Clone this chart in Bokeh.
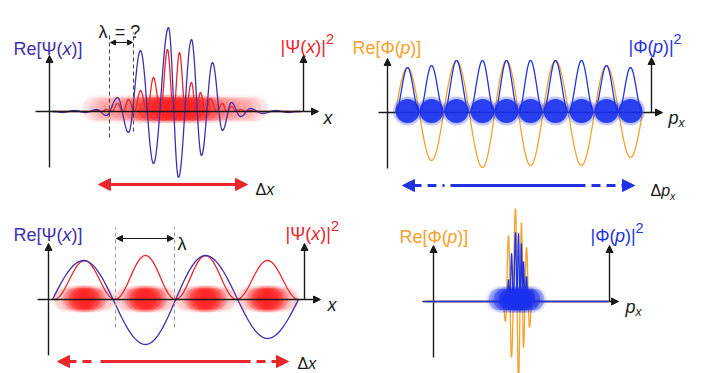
import numpy as np
from bokeh.plotting import figure
from bokeh.models import Range1d, Arrow, NormalHead
from bokeh.core.properties import value
from bokeh.embed import file_html
from bokeh.resources import INLINE

# ---------------- data ----------------
# x: position along each horizontal axis (px units), y: height above that axis (px units)
# Top-left: localized wave packet in x
TL_RE_X = [62, 74, 85, 96, 106, 117, 128, 140, 153, 168, 178, 191, 201, 212, 222, 231, 240, 250, 262, 275, 288]
TL_RE_Y = [-1, 1, -1, 2, -4, 14, -21, 61, -52, 84, -66, 72, -44, 49, -19, 9, -5, 3, -2, 1, -1]
TL_PROB_X = [96, 106, 117, 128, 140, 153, 167, 179, 191, 200, 210, 222, 231, 240, 250]
TL_PROB_Y = [1, 2, 8, 12, 21, 34, 62, 59, 29, 19, 13, 8, 5, 2, 1]
TL_BLOB_X = [94, 101, 108, 115, 122, 129, 136, 143, 150, 157, 164, 171, 178, 185, 192, 199, 206, 213, 220, 227, 234, 241, 248, 255]
TL_BLOB_A = [.09, .10, .11, .13, .15, .19, .26, .36, .5, .6, .65, .65, .65, .65, .6, .5, .36, .26, .19, .15, .13, .11, .10, .09]

# Top-right: spread-out momentum distribution
TR_RE_X = [407, 431, 456, 482, 506, 530, 555, 581, 606, 630]
TR_RE_Y = [45, -48, 52, -55, 52, -53, 52, -53, 47, -45]
TR_PROB_Y = [45, 47, 52, 52, 52, 52, 52, 52, 47, 45]

# Bottom-left: plane wave in x
BL_RE_X = [83, 145, 205, 267]
BL_RE_Y = [39, -45, 44, -39]
BL_PROB_X = [84, 145, 205, 267]
BL_PROB_Y = [39, 44, 44, 39]
BL_BLOB_OFF = [-19, -10, -5, 0, 5, 10, 19]
BL_BLOB_A = [.15, .28, .45, .6, .45, .28, .15]

# Bottom-right: narrow momentum distribution
BR_RE_X = [496, 499, 502, 505, 508, 511, 515, 518, 521, 523, 526, 529, 532, 535, 538, 541]
BR_RE_Y = [1, -2, 4, -20, 66, -56, 93, -80, 79, -46, 54, -26, 12, -5, 2, -1]
BR_PROB_X = [502, 505, 508, 511, 515, 518, 521, 523, 526, 529, 532]
BR_PROB_Y = [4, 10, 22, 48, 69, 68, 58, 40, 25, 10, 4]
BR_BLOB_X = [499, 504, 509, 514, 519, 524, 529, 533]
BR_BLOB_A = [.35, .5, .7, .85, .85, .7, .5, .35]

# ---------------- styles ----------------
FONT = "Liberation Sans"
PURPLE = "#3f2fae"
RED = "#e8262b"
ORANGE = "#f7a12c"
BLUE = "#1f34e0"
BLOB_RED = "#ff1f1f"
BLOB_BLUE = "#1a30ee"
INK = "#1a1a1a"

W = {'R': .722, 'e': .556, '[': .278, ']': .278, '(': .333, ')': .333, 'x': .5, 'p': .556,
     '|': .26, '2': .556, 'Ψ': .835, 'Φ': .764, 'Δ': .668, 'λ': .62, ' ': .278, '=': .584, '?': .556}

p = figure(width=709, height=373, x_range=Range1d(0, 709), y_range=Range1d(0, 373),
           toolbar_location=None, output_backend="svg", x_axis_type=None, y_axis_type=None,
           min_border=0, outline_line_color=None)
p.background_fill_color = "white"
p.border_fill_color = "white"


def Y(py):
    return 373 - py


def cos_interp(xs, ys, n=24):
    ox, oy = [], []
    for i in range(len(xs) - 1):
        t = np.arange(n) / n
        ox.extend(xs[i] + (xs[i + 1] - xs[i]) * t)
        oy.extend(ys[i] + (ys[i + 1] - ys[i]) * (1 - np.cos(np.pi * t)) / 2)
    ox.append(xs[-1]); oy.append(ys[-1])
    return np.array(ox), np.array(oy)


def wave_curve(xs, ys):
    xs = list(xs); ys = list(ys)
    d0 = xs[1] - xs[0]; d1 = xs[-1] - xs[-2]
    cx, cy = cos_interp([xs[0] - d0] + xs + [xs[-1] + d1], [-ys[0]] + ys + [-ys[-1]])
    m = (cx >= xs[0] - d0 / 2 - 1e-9) & (cx <= xs[-1] + d1 / 2 + 1e-9)
    return cx[m], cy[m]


def lobes(xs, ys):
    px = [xs[0] - (xs[1] - xs[0]) / 2]; py = [0]
    for i in range(len(xs)):
        px.append(xs[i]); py.append(ys[i])
        if i < len(xs) - 1:
            px.append((xs[i] + xs[i + 1]) / 2); py.append(0)
    px.append(xs[-1] + (xs[-1] - xs[-2]) / 2); py.append(0)
    return cos_interp(px, py)


def extend(cx, cy, lo, hi):
    return np.concatenate([[lo], cx, [hi]]), np.concatenate([[0], cy, [0]])


def blobs(xs, alphas, yc, r, color, halo=0.3):
    xs = list(xs)
    p.circle(x=xs, y=[yc] * len(xs), radius=r + 2.5, fill_color=color,
             fill_alpha=[a * halo for a in alphas], line_color=None)
    p.circle(x=xs, y=[yc] * len(xs), radius=r, fill_color=color,
             fill_alpha=list(alphas), line_color=None)


def rich(x, y, segs, color, size=18):
    for s, style, scale, dy in segs:
        fs = size * scale
        st = s.lstrip(" ")
        x += (len(s) - len(st)) * W[' '] * fs
        p.text(x=[x], y=[y + dy], text=[st], text_font=value(FONT), text_font_size=f"{fs:.1f}px",
               text_font_style=style, text_color=color, text_baseline="alphabetic", text_align="left")
        x += sum(W.get(c, .55) for c in st) * fs


def axis_arrow(x0, y0, x1, y1, level="annotation"):
    p.add_layout(Arrow(end=NormalHead(size=7, fill_color=INK, line_color=INK),
                       x_start=x0, y_start=y0, x_end=x1, y_end=y1,
                       line_color=INK, line_width=1.4, level=level))


def head(xt, y, direction, color, size=12):
    p.add_layout(Arrow(end=NormalHead(size=size, fill_color=color, line_color=color),
                       x_start=xt - direction, y_start=y, x_end=xt, y_end=y,
                       line_alpha=0, line_width=1))


def big_arrow(x_left, x_right, y, color, solid=None):
    head(x_left, y, -1, color)
    head(x_right, y, 1, color)
    if solid is None:
        p.segment(x0=[x_left + 4], y0=[y], x1=[x_right - 4], y1=[y], line_color=color, line_width=3)
    else:
        p.segment(x0=[solid[0]], y0=[y], x1=[solid[1]], y1=[y], line_color=color, line_width=3)
        p.segment(x0=[x_left + 10, solid[1] + 6], y0=[y, y], x1=[solid[0] - 6, x_right - 10], y1=[y, y],
                  line_color=color, line_width=3, line_dash="9 6")


# ================= Top-left =================
b = Y(111)
blobs(TL_BLOB_X, TL_BLOB_A, b + 2.5, 12, BLOB_RED)
cx, cy = extend(*lobes(TL_PROB_X, TL_PROB_Y), 52, 300)
p.line(cx, b + cy, line_color=RED, line_width=1.3)
cx, cy = extend(*wave_curve(TL_RE_X, TL_RE_Y), 52, 300)
p.line(cx, b + cy, line_color=PURPLE, line_width=1.3)
axis_arrow(35, b, 318, b)
axis_arrow(49, Y(167), 49, Y(55))
axis_arrow(303, b, 303, Y(55))
p.segment(x0=[109, 133], y0=[Y(137), Y(131)], x1=[109, 133], y1=[Y(32), Y(32)],
          line_color="#444444", line_width=1, line_dash="4 3")
p.add_layout(Arrow(start=NormalHead(size=5, fill_color=INK, line_color=INK),
                   end=NormalHead(size=5, fill_color=INK, line_color=INK),
                   x_start=110, y_start=Y(42), x_end=132, y_end=Y(42), line_color=INK, line_width=1.2))
rich(98, Y(31), [("λ", "normal", 1, 0), (" = ?", "normal", 1, 0)], INK)
rich(13, Y(48), [("Re[Ψ(", "normal", 1, 0), ("x", "italic", 1, 0), (")]", "normal", 1, 0)], PURPLE)
rich(280, Y(46), [("|Ψ(", "normal", 1, 0), ("x", "italic", 1, 0), (")|", "normal", 1, 0),
                  ("2", "normal", .8, 8)], RED)
rich(323, Y(117), [("x", "italic", 1, 0)], INK)
big_arrow(98, 247, Y(184), RED)
rich(255, Y(189), [("Δ", "normal", 1, 0), ("x", "italic", 1, 0)], INK, size=16)

# ================= Top-right =================
b = Y(112)
axis_arrow(378, b, 662, b, level="underlay")
axis_arrow(387, Y(168), 387, Y(58), level="underlay")
axis_arrow(651, b, 651, Y(57), level="underlay")
cx, cy = wave_curve(TR_RE_X, TR_RE_Y)
p.line(cx, b + cy, line_color=ORANGE, line_width=1.3)
cx, cy = lobes(TR_RE_X, TR_PROB_Y)
p.line(cx, b + cy, line_color=BLUE, line_width=1.3)
blobs(TR_RE_X, [.9] * len(TR_RE_X), b + 1.5, 12, BLOB_BLUE)
rich(352, Y(47), [("Re[Φ(", "normal", 1, 0), ("p", "italic", 1, 0), (")]", "normal", 1, 0)], ORANGE)
rich(628, Y(46), [("|Φ(", "normal", 1, 0), ("p", "italic", 1, 0), (")|", "normal", 1, 0),
                  ("2", "normal", .8, 8)], BLUE)
rich(668, Y(117), [("p", "italic", 1, 0), ("x", "italic", .67, -5)], INK)
big_arrow(402, 634, Y(185), BLUE, solid=(450, 585))
rich(650, Y(190), [("Δ", "normal", 1, 0), ("p", "italic", 1, 0), ("x", "italic", .67, -5)], INK, size=16)

# ================= Bottom-left =================
b = Y(299)
bx = [c + o for c in BL_PROB_X for o in BL_BLOB_OFF]
ba = [a for c in BL_PROB_X for a in BL_BLOB_A]
blobs(bx, ba, b + 0.5, 11, BLOB_RED, halo=0.45)
cx, cy = lobes(BL_PROB_X, BL_PROB_Y)
p.line(cx, b + cy, line_color=RED, line_width=1.3)
cx, cy = wave_curve(BL_RE_X, BL_RE_Y)
p.line(cx, b + cy, line_color=PURPLE, line_width=1.3)
axis_arrow(37, b, 320, b)
axis_arrow(48, Y(355), 48, Y(243))
axis_arrow(304, b, 304, Y(243))
p.segment(x0=[115, 174], y0=[Y(327), Y(327)], x1=[115, 174], y1=[Y(227), Y(227)],
          line_color="#9a9a9a", line_width=1, line_dash="4 3")
p.add_layout(Arrow(start=NormalHead(size=6, fill_color=INK, line_color=INK),
                   end=NormalHead(size=6, fill_color=INK, line_color=INK),
                   x_start=116, y_start=Y(238), x_end=173, y_end=Y(238), line_color=INK, line_width=1.2))
rich(177, Y(243), [("λ", "normal", 1, 0)], INK)
rich(13, Y(234), [("Re[Ψ(", "normal", 1, 0), ("x", "italic", 1, 0), (")]", "normal", 1, 0)], PURPLE)
rich(285, Y(233), [("|Ψ(", "normal", 1, 0), ("x", "italic", 1, 0), (")|", "normal", 1, 0),
                   ("2", "normal", .8, 8)], RED)
rich(327, Y(304), [("x", "italic", 1, 0)], INK)
big_arrow(57, 288, Y(361), RED, solid=(100, 250))
rich(297, Y(363), [("Δ", "normal", 1, 0), ("x", "italic", 1, 0)], INK, size=16)

# ================= Bottom-right =================
b = Y(301)
axis_arrow(422, b, 618, b, level="underlay")
axis_arrow(433, Y(357), 433, Y(245), level="underlay")
axis_arrow(609, b, 609, Y(245), level="underlay")
cx, cy = extend(*wave_curve(BR_RE_X, BR_RE_Y), 425, 608)
p.line(cx, b + cy, line_color=ORANGE, line_width=1.3)
cx, cy = extend(*lobes(BR_PROB_X, BR_PROB_Y), 425, 608)
p.line(cx, b + cy, line_color=BLUE, line_width=1.3)
blobs(BR_BLOB_X, BR_BLOB_A, b + 2, 11, BLOB_BLUE)
rich(399, Y(236), [("Re[Φ(", "normal", 1, 0), ("p", "italic", 1, 0), (")]", "normal", 1, 0)], ORANGE)
rich(590, Y(235), [("|Φ(", "normal", 1, 0), ("p", "italic", 1, 0), (")|", "normal", 1, 0),
                   ("2", "normal", .8, 8)], BLUE)
rich(625, Y(306), [("p", "italic", 1, 0), ("x", "italic", .67, -5)], INK)

open("out.html", "w").write(file_html(p, INLINE))
